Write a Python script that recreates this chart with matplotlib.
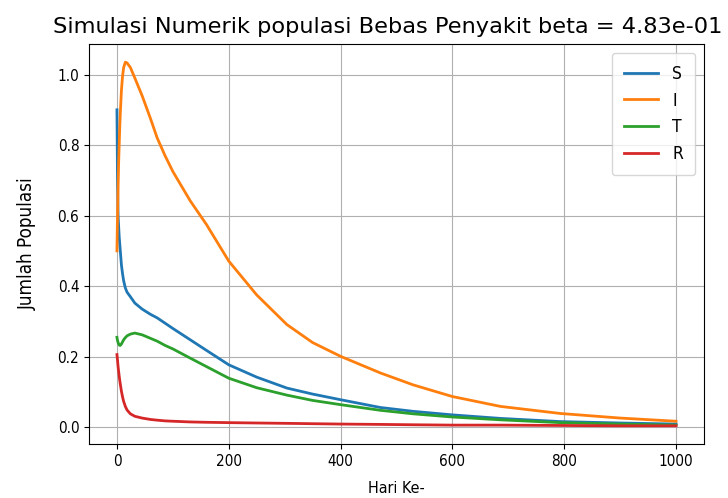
import matplotlib
matplotlib.use("Agg")
import matplotlib.pyplot as plt

title = "Simulasi Numerik populasi Bebas Penyakit beta = 4.83e-01"
xlabel = "Hari Ke-"
ylabel = "Jumlah Populasi"
labels = ["S", "I", "T", "R"]

days = [0, 0.5, 1, 2, 3, 4, 5, 6, 8, 10, 12, 15, 18, 24, 32, 45, 60, 72, 86, 100,
        131, 160, 200, 250, 304, 350, 400, 471, 530, 600, 686, 793, 900, 1000]

S = [0.90, 0.80, 0.70, 0.60, 0.57, 0.54, 0.52, 0.50, 0.46, 0.435, 0.415, 0.395, 0.383,
     0.37, 0.352, 0.335, 0.32, 0.31, 0.295, 0.28, 0.248, 0.218, 0.177, 0.142, 0.111,
     0.094, 0.078, 0.056, 0.045, 0.035, 0.025, 0.016, 0.012, 0.009]

I = [0.50, 0.55, 0.60, 0.68, 0.75, 0.80, 0.85, 0.89, 0.955, 0.995, 1.02, 1.035, 1.033,
     1.02, 0.99, 0.94, 0.875, 0.82, 0.77, 0.725, 0.642, 0.575, 0.471, 0.375, 0.291,
     0.24, 0.201, 0.154, 0.12, 0.087, 0.059, 0.039, 0.026, 0.017]

T = [0.255, 0.25, 0.246, 0.24, 0.236, 0.233, 0.232, 0.232, 0.236, 0.242, 0.248, 0.254,
     0.259, 0.264, 0.267, 0.262, 0.252, 0.244, 0.232, 0.222, 0.196, 0.172, 0.139, 0.112,
     0.091, 0.076, 0.064, 0.048, 0.038, 0.029, 0.021, 0.013, 0.009, 0.006]

R = [0.206, 0.198, 0.19, 0.172, 0.158, 0.145, 0.133, 0.122, 0.102, 0.086, 0.073, 0.059,
     0.049, 0.038, 0.031, 0.026, 0.022, 0.02, 0.018, 0.017, 0.015, 0.014, 0.013, 0.012,
     0.011, 0.01, 0.009, 0.008, 0.007, 0.006, 0.006, 0.005, 0.004, 0.004]

plt.rcParams['font.family'] = ['DejaVu Sans']
plt.rcParams['font.stretch'] = 'condensed'
fig = plt.figure(figsize=(7.28, 4.98), dpi=100)
ax = fig.add_axes([89/728, 1 - 444/498, (704 - 89)/728, (444 - 44)/498])

for series, lab in zip([S, I, T, R], labels):
    ax.plot(days, series, label=lab, linewidth=2)

ax.set_title(title, fontsize=16.2, pad=8, x=(388 - 89) / 615, fontstretch='normal')
ax.set_xlabel(xlabel, fontsize=11.5, labelpad=8.5)
ax.set_ylabel(ylabel, fontsize=13.5, labelpad=15)
ax.tick_params(labelsize=11)
ax.set_xticks([0, 200, 400, 600, 800, 1000])
ax.set_yticks([0.0, 0.2, 0.4, 0.6, 0.8, 1.0])
ax.grid(True)
ax.legend(loc="upper right", fontsize=12.5, borderpad=0.7)

fig.savefig("out.png", dpi=100)
